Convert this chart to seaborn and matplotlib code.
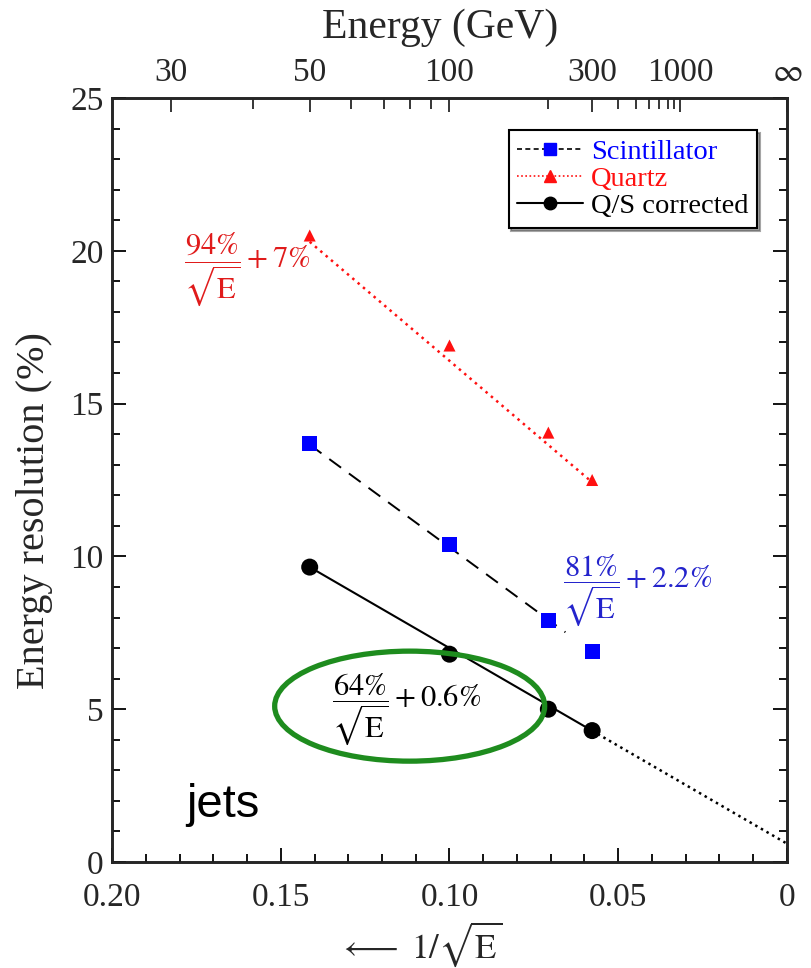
import numpy as np
import pandas as pd
import matplotlib
matplotlib.use("Agg")
import matplotlib.pyplot as plt
import seaborn as sns
from matplotlib.lines import Line2D
from matplotlib.patches import Ellipse
from matplotlib.ticker import MultipleLocator, FixedLocator, NullFormatter

# Beam energies (GeV) of the measured points
energies = [50, 100, 200, 300]

# Energy resolution (%) per readout
scintillator = [13.7, 10.4, 7.9, 6.9]
quartz = [20.5, 16.9, 14.05, 12.5]
qs_corrected = [9.65, 6.8, 5.0, 4.3]

# Fits: resolution = stochastic / sqrt(E) + constant   (both in %)
fit_stochastic = {"Scintillator": 81, "Quartz": 94, "Q/S corrected": 64}
fit_constant = {"Scintillator": 2.2, "Quartz": 7, "Q/S corrected": 0.6}
fit_energy_span = {"Scintillator": [50, 232], "Quartz": [50, 300], "Q/S corrected": [50, 300]}
extrapolation_span = [300, np.inf]

# Top axis energy scale
top_major_energies = [30, 50, 100, 300, 1000, np.inf]
top_major_labels = ["30", "50", "100", "300", "1000", r"$\infty$"]
top_minor_energies = [40, 60, 70, 80, 90, 200, 400, 500, 600, 700, 800, 900]

x_ticks = [0.20, 0.15, 0.10, 0.05, 0.0]
x_tick_labels = ["0.20", "0.15", "0.10", "0.05", "0"]
y_ticks = [0, 5, 10, 15, 20, 25]


def inv_sqrt(e):
    return 1.0 / np.sqrt(np.asarray(e, dtype=float))


sns.set_theme(style="ticks")
plt.rcParams["font.family"] = ["Liberation Serif", "DejaVu Serif"]
plt.rcParams["mathtext.fontset"] = "stix"

BLUE = "#0000ff"
RED = "#ff1010"
RED_TEXT = "#e01b1b"
BLUE_TEXT = "#2424cc"
GREEN = "#1e8c1e"

fig = plt.figure(figsize=(8.12, 9.68), dpi=100)
ax = fig.add_axes([112 / 812, (968 - 862) / 968, 675 / 812, 764 / 968])

points = pd.DataFrame({
    "x": np.tile(inv_sqrt(energies), 3),
    "resolution": scintillator + quartz + qs_corrected,
    "series": ["Scintillator"] * 4 + ["Quartz"] * 4 + ["Q/S corrected"] * 4,
})

line_styles = {
    "Scintillator": dict(color="black", lw=1.4, linestyle=(0, (7.5, 5))),
    "Quartz": dict(color=RED, lw=1.8, linestyle=(0, (1, 1.8))),
    "Q/S corrected": dict(color="black", lw=1.5, linestyle="-"),
}

# Fit lines
for name in ["Scintillator", "Quartz", "Q/S corrected"]:
    xs = inv_sqrt(fit_energy_span[name])
    ys = fit_stochastic[name] * xs + fit_constant[name]
    sns.lineplot(x=xs, y=ys, ax=ax, sort=False, estimator=None, **line_styles[name])

# Extrapolation of the corrected fit towards infinite energy
xs = inv_sqrt(extrapolation_span)
ys = fit_stochastic["Q/S corrected"] * xs + fit_constant["Q/S corrected"]
sns.lineplot(x=xs, y=ys, ax=ax, sort=False, estimator=None,
             color="black", lw=1.8, linestyle=(0, (1, 1.6)))

# Measured points
sns.scatterplot(data=points[points.series == "Scintillator"], x="x", y="resolution",
                ax=ax, marker="s", s=120, color=BLUE, edgecolor="none", zorder=5)
sns.scatterplot(data=points[points.series == "Quartz"], x="x", y="resolution",
                ax=ax, marker="^", s=75, color=RED, edgecolor="none", zorder=5)
sns.scatterplot(data=points[points.series == "Q/S corrected"], x="x", y="resolution",
                ax=ax, marker="o", s=150, color="black", edgecolor="none", zorder=5)

ax.set_xlim(0.20, 0.0)
ax.set_ylim(0, 25)
ax.set_xticks(x_ticks)
ax.set_xticklabels(x_tick_labels)
ax.set_yticks(y_ticks)
ax.xaxis.set_minor_locator(MultipleLocator(0.01))
ax.yaxis.set_minor_locator(MultipleLocator(1))
ax.tick_params(axis="both", which="both", direction="in", top=False, right=True,
               labelsize=24, width=1.3, color="black")
ax.tick_params(axis="x", which="both", pad=15)
ax.tick_params(axis="y", which="both", pad=6)
ax.tick_params(which="major", length=10)
ax.tick_params(which="minor", length=6)
for sp in ax.spines.values():
    sp.set_linewidth(1.8)
    sp.set_color("black")

ax.set_xlabel(r"$\longleftarrow\ 1/\sqrt{\mathrm{E}}$", fontsize=25)
ax.xaxis.set_label_coords(0.456, -0.075)
ax.set_ylabel("Energy resolution (%)", fontsize=29)
ax.yaxis.set_label_coords(-0.088, 0.46)

# Energy scale on top
top = ax.twiny()
top.set_xlim(ax.get_xlim())
top.xaxis.set_major_locator(FixedLocator(inv_sqrt(top_major_energies)))
top.set_xticklabels(top_major_labels)
top.xaxis.set_minor_locator(FixedLocator(inv_sqrt(top_minor_energies)))
top.xaxis.set_minor_formatter(NullFormatter())
top.tick_params(axis="x", which="both", direction="in", labelsize=24, width=1.3, pad=7)
top.tick_params(which="major", length=10)
top.tick_params(which="minor", length=8)
for sp in top.spines.values():
    sp.set_linewidth(1.8)
fig.text(440 / 812, 1 - 28 / 968, "Energy (GeV)", fontsize=30, ha="center", va="center")

# Legend
handles = [
    Line2D([], [], color="black", lw=1.2, linestyle=(0, (3, 2)), marker="s",
           markersize=9, markerfacecolor=BLUE, markeredgecolor=BLUE),
    Line2D([], [], color=RED, lw=1.2, linestyle=(0, (1, 1.5)), marker="^",
           markersize=8, markerfacecolor=RED, markeredgecolor=RED),
    Line2D([], [], color="black", lw=1.5, linestyle="-", marker="o",
           markersize=9, markerfacecolor="black", markeredgecolor="black"),
]
leg = ax.legend(handles, ["Scintillator", "Quartz", "Q/S corrected"],
                loc="upper right", bbox_to_anchor=(0.956, 0.958), fontsize=20.5,
                frameon=True, fancybox=False, shadow=True, edgecolor="black",
                framealpha=1, labelspacing=0.05, borderpad=0.3,
                handlelength=2.3, handletextpad=0.3, borderaxespad=0)
leg.get_frame().set_linewidth(1.5)
for txt, col in zip(leg.get_texts(), [BLUE, RED, "black"]):
    txt.set_color(col)

# Fit formulas
ax.text(0.1788, 19.4, r"$\dfrac{94\%}{\sqrt{\mathrm{E}}}+7\%$", color=RED_TEXT,
        fontsize=22, ha="left", va="center")
ax.text(0.0665, 8.9, r"$\dfrac{81\%}{\sqrt{\mathrm{E}}}+2.2\%$", color=BLUE_TEXT,
        fontsize=22, ha="left", va="center")
ax.text(0.1347, 5.0, r"$\dfrac{64\%}{\sqrt{\mathrm{E}}}+0.6\%$", color="black",
        fontsize=22, ha="left", va="center")

ax.add_patch(Ellipse((0.1118, 5.1), width=0.080, height=3.6, fill=False,
                     edgecolor=GREEN, lw=3.8, zorder=6))

ax.text(0.1671, 1.87, "jets", fontsize=34, family="Liberation Sans",
        ha="center", va="center", color="black")

fig.savefig("out.png", dpi=100)
